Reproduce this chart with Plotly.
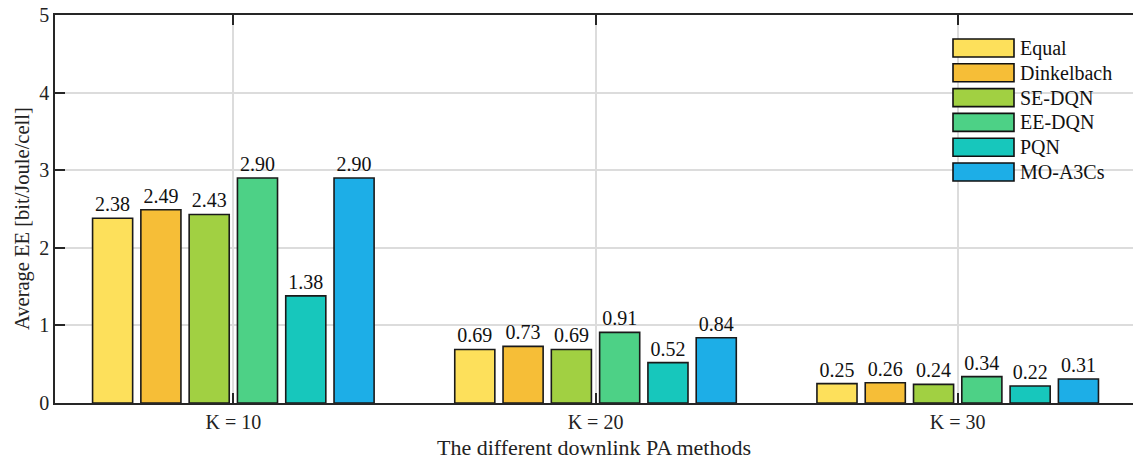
import plotly.graph_objects as go

# Average energy efficiency per downlink power-allocation method
categories = ["K = 10", "K = 20", "K = 30"]
methods = ["Equal", "Dinkelbach", "SE-DQN", "EE-DQN", "PQN", "MO-A3Cs"]
equal = [2.38, 0.69, 0.25]
dinkelbach = [2.49, 0.73, 0.26]
se_dqn = [2.43, 0.69, 0.24]
ee_dqn = [2.90, 0.91, 0.34]
pqn = [1.38, 0.52, 0.22]
mo_a3cs = [2.90, 0.84, 0.31]
y_ticks = [0, 1, 2, 3, 4, 5]

series = [equal, dinkelbach, se_dqn, ee_dqn, pqn, mo_a3cs]
colors = ["#FDE05B", "#F6BE37", "#A1D042", "#4DD186", "#17C7BC", "#1DAEE7"]

W, H = 1133, 462
ML, MR, MT, MB = 55, 0, 15, 59
PW, PH = W - ML - MR, H - MT - MB
FONT = "Liberation Serif, Times New Roman, serif"


def px_x(p):
    return (p - ML) / PW


def px_y(p):
    return (H - MB - p) / PH


fig = go.Figure()
for name, vals, col in zip(methods, series, colors):
    fig.add_trace(go.Bar(
        x=categories, y=vals, name=name,
        marker=dict(color=col, line=dict(color="#1a1a1a", width=1.6)),
        text=[f"{v:.2f}" for v in vals],
        textposition="outside",
        textfont=dict(family=FONT, size=20, color="#111"),
        constraintext="none",
        cliponaxis=False,
        showlegend=False,
    ))

# Legend: swatches with labels in the upper right corner
shapes = []
annotations = []
for i, (name, col) in enumerate(zip(methods, colors)):
    top = 39 + i * 24.8
    shapes.append(dict(
        type="rect", xref="paper", yref="paper",
        x0=px_x(953), x1=px_x(1014), y0=px_y(top + 18), y1=px_y(top),
        fillcolor=col, line=dict(color="#111", width=1.6), layer="above",
    ))
    annotations.append(dict(
        xref="paper", yref="paper", x=px_x(1018), y=px_y(top + 9),
        text=name, showarrow=False, xanchor="left", yanchor="middle",
        font=dict(family=FONT, size=20, color="#111"),
    ))

# Y-axis title
annotations.append(dict(
    xref="paper", yref="paper", x=px_x(22), y=px_y(219),
    text="Average EE [bit/Joule/cell]", textangle=-90, showarrow=False,
    xanchor="center", yanchor="middle",
    font=dict(family=FONT, size=20.5, color="#222"),
))

fig.update_layout(
    width=W, height=H,
    margin=dict(l=ML, r=MR, t=MT, b=MB, autoexpand=False),
    paper_bgcolor="white", plot_bgcolor="white",
    barmode="group", bargap=0.2, bargroupgap=0.17,
    font=dict(family=FONT, size=20, color="#222"),
    shapes=shapes, annotations=annotations,
    xaxis=dict(
        type="category", range=[-0.4924, 2.484],
        showgrid=True, gridcolor="#dcdcdc", gridwidth=1.5,
        showline=True, linecolor="#262626", linewidth=1.6, mirror="ticks",
        ticks="inside", ticklen=10, tickwidth=1.6, tickcolor="#262626",
        tickfont=dict(family=FONT, size=20, color="#222"),
        title=dict(text="The different downlink PA methods",
                   font=dict(family=FONT, size=22, color="#222"), standoff=8),
        automargin=False,
    ),
    yaxis=dict(
        range=[0, 5], tickvals=y_ticks,
        showgrid=True, gridcolor="#dcdcdc", gridwidth=1.5, zeroline=False,
        showline=True, linecolor="#262626", linewidth=1.6,
        ticks="inside", ticklen=10, tickwidth=1.6, tickcolor="#262626",
        tickfont=dict(family=FONT, size=20, color="#222"),
        automargin=False,
    ),
    yaxis2=dict(
        overlaying="y", side="right", anchor="x", matches="y",
        range=[0, 5], tickvals=y_ticks, showticklabels=False,
        showgrid=False, zeroline=False, showline=False,
        ticks="inside", ticklen=10, tickwidth=1.6, tickcolor="#262626",
    ),
)

fig.write_html("out.html")
